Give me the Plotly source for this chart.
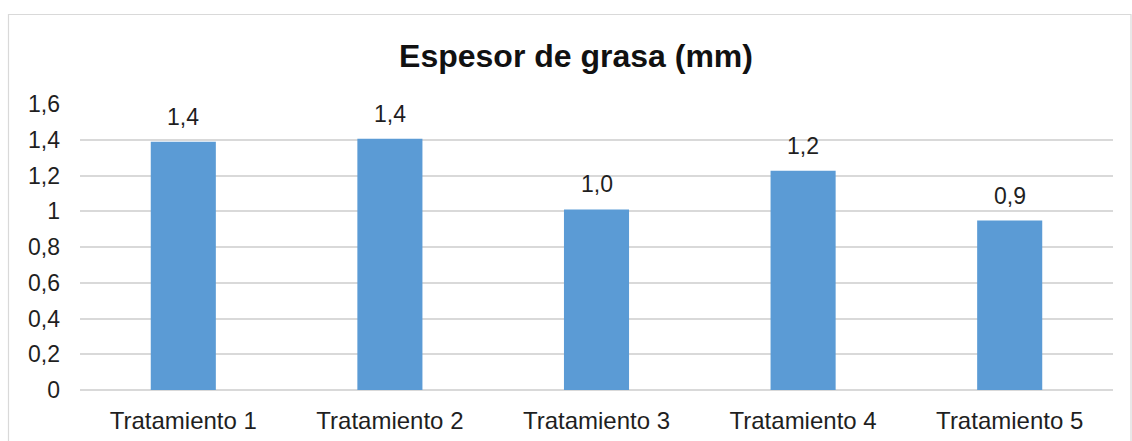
import plotly.graph_objects as go

categories = ["Tratamiento 1", "Tratamiento 2", "Tratamiento 3", "Tratamiento 4", "Tratamiento 5"]
values = [1.389, 1.406, 1.01, 1.226, 0.948]
y_ticks = [0, 0.2, 0.4, 0.6, 0.8, 1.0, 1.2, 1.4, 1.6]
title_text = "Espesor de grasa (mm)"

FONT = "Liberation Sans, Arial, sans-serif"
TXT = "#1f1f1f"

W, H = 1132, 441
ML, MR, MT, MB = 80, 19, 104, 51
pw, ph = W - ML - MR, H - MT - MB

fig = go.Figure()
fig.add_trace(go.Bar(
    x=categories, y=values,
    marker=dict(color="#5B9BD5", line=dict(width=0)),
    width=0.315,
    hoverinfo="skip",
))

for c, v in zip(categories, values):
    fig.add_annotation(
        x=c, y=v, xref="x", yref="y",
        text=f"{v:.1f}".replace(".", ","),
        showarrow=False, yanchor="bottom", yshift=10,
        font=dict(family=FONT, size=23, color=TXT),
    )

def px_x(p):
    return (p - ML) / pw

def px_y(p):
    return (H - MB - p) / ph

fig.add_shape(type="rect", xref="paper", yref="paper",
              x0=px_x(8.5), x1=px_x(1131), y0=px_y(460), y1=px_y(14.5),
              line=dict(color="#D9D9D9", width=1.2), fillcolor="rgba(0,0,0,0)",
              layer="below")

fig.update_layout(
    width=W, height=H,
    margin=dict(l=ML, r=MR, t=MT, b=MB, autoexpand=False),
    paper_bgcolor="white", plot_bgcolor="white",
    separators=",.",
    showlegend=False,
    title=dict(text=f"<b>{title_text}</b>", xref="container", yref="container",
               x=576 / W, y=1 - 56 / H, xanchor="center", yanchor="middle",
               font=dict(family=FONT, size=32, color="#111")),
    font=dict(family=FONT, color=TXT),
    xaxis=dict(showgrid=False, showline=False, ticks="", zeroline=False,
               automargin=False,
               tickfont=dict(family=FONT, size=24, color=TXT),
               ticklabelstandoff=14),
    yaxis=dict(range=[0, 1.6], tickvals=y_ticks, showgrid=True,
               automargin=False,
               gridcolor="#D9D9D9", gridwidth=1.5,
               zeroline=True, zerolinecolor="#D9D9D9", zerolinewidth=1.5,
               showline=False, ticks="",
               tickfont=dict(family=FONT, size=23, color=TXT),
               ticklabelstandoff=19),
)

fig.write_html("out.html")
